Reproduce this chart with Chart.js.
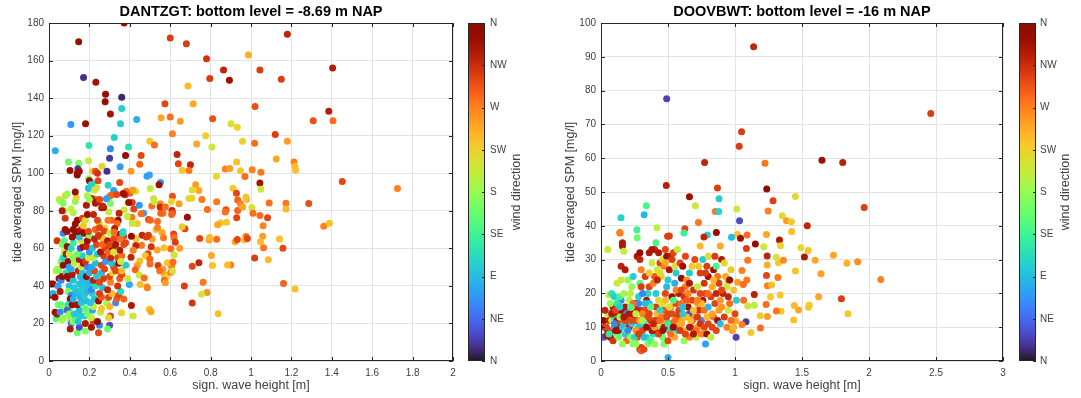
<!DOCTYPE html>
<html>
<head>
<meta charset="utf-8">
<script src="https://cdn.jsdelivr.net/npm/chart.js@4"></script>
<style>
  html, body { margin: 0; padding: 0; background: #fff; }
  #wrap { position: relative; width: 1081px; height: 398px; }
  .panel { position: absolute; top: 0; height: 398px; }
</style>
</head>
<body>
<div id="wrap">
  <div class="panel" style="left:0;width:540px"><canvas id="c1" width="540" height="398"></canvas></div>
  <div class="panel" style="left:540px;width:541px"><canvas id="c2" width="541" height="398"></canvas></div>
</div>
<script>
// colorbar tick labels (wind direction, 0..360 deg in steps of 45)
const dirLabels = ['N', 'NE', 'E', 'SE', 'S', 'SW', 'W', 'NW', 'N'];

// DANTZGT: significant wave height [m], SPM [mg/l], wind direction [deg]
const hsD = [
  0.372,0.147,0.60,0.68,1.18,0.987,0.78,0.864,
  1.044,1.404,0.796,0.893,1.15,0.171,0.232,0.688,
  0.28,0.278,0.36,0.36,0.304,0.574,0.714,1.02,
  1.385,1.308,1.406,0.555,0.60,0.65,0.81,0.108,
  0.181,0.354,0.434,0.323,0.611,0.776,0.901,0.932,
  1.12,1.18,1.018,0.958,0.731,0.031,0.198,0.394,
  0.304,0.499,0.522,0.806,0.456,0.379,0.30,0.634,
  0.64,0.70,0.449,0.096,0.147,0.196,0.263,0.143,
  0.104,0.14,0.215,0.23,0.287,0.406,0.352,0.485,
  0.497,0.659,0.693,0.873,0.895,0.929,0.948,1.006,
  1.049,1.213,1.218,1.221,0.97,0.829,1.125,1.452,
  1.725,1.044,0.552,0.545,0.35,0.501,0.726,0.742,
  0.709,0.911,0.928,0.934,0.975,0.979,1.049,0.196,
  0.215,0.198,0.243,0.293,0.32,0.299,0.383,0.40,
  0.429,0.611,0.606,0.644,0.693,0.707,0.757,0.83,
  0.948,1.09,1.173,1.286,1.173,1.004,1.01,1.044,
  1.082,1.06,0.876,0.934,0.929,0.958,0.873,0.784,
  0.879,0.85,0.835,0.685,0.673,0.659,0.609,0.611,
  0.564,1.36,1.388,1.158,1.141,1.062,1.058,1.047,
  0.975,0.967,0.982,0.922,0.932,0.83,0.793,0.746,
  0.795,0.804,0.809,0.90,0.884,0.709,0.742,1.018,
  1.086,1.161,1.218,0.763,0.782,0.755,0.67,0.709,
  0.837,0.497,0.505,0.485,0.408,0.417,0.359,0.304,
  0.509,0.553,0.551,0.518,0.52,0.55,0.576,0.607,
  0.53,0.537,0.493,0.502,0.537,0.56,0.567,0.511,
  0.492,0.461,0.482,0.617,0.619,0.625,0.603,0.647,
  0.57,0.536,0.506,0.458,0.43,0.417,0.432,0.49,
  0.477,0.499,0.54,0.50,0.449,0.406,0.437,0.427,
  0.447,0.471,0.564,0.572,0.58,0.548,0.607,0.586,
  0.62,0.614,0.603,0.611,0.571,0.576,0.487,0.451,
  0.398,0.412,0.394,0.376,0.367,0.415,0.372,0.41,
  0.42,0.447,0.468,0.456,0.437,0.412,0.388,0.347,
  0.342,0.337,0.325,0.367,0.349,0.369,0.408,0.352,
  0.379,0.296,0.27,0.261,0.265,0.304,0.307,0.335,
  0.284,0.232,0.212,0.236,0.309,0.292,0.249,0.278,
  0.273,0.301,0.323,0.258,0.27,
  0.01,0.02,0.005,0.02,0.03,0.03,0.035,0.04,
  0.04,0.035,0.05,0.05,0.045,0.055,0.06,0.065,
  0.05,0.06,0.07,0.04,0.045,0.06,0.07,0.055,
  0.065,0.07,0.06,0.07,0.07,0.075,0.065,0.075,
  0.07,0.08,0.08,0.075,0.065,0.08,0.09,
  0.09,0.09,0.085,0.1,0.095,0.1,0.085,0.09,
  0.1,0.1,0.095,0.11,0.105,0.095,0.1,0.09,
  0.1,0.105,0.11,0.105,0.12,0.13,0.125,0.115,
  0.12,0.13,0.125,0.12,0.115,0.11,0.125,0.12,
  0.11,0.12,0.115,0.13,0.12,0.13,0.14,0.12,
  0.13,0.11,0.135,0.13,0.14,0.15,
  0.14,0.15,0.145,0.155,0.15,0.14,0.16,0.155,
  0.145,0.16,0.15,0.165,0.155,0.145,0.165,0.16,
  0.17,0.15,0.165,0.14,0.155,0.17,0.16,0.15,
  0.145,0.16,0.175,0.17,0.165,0.18,0.18,0.175,
  0.19,0.18,0.185,0.175,0.19,0.18,0.2,0.195,
  0.185,0.2,0.19,0.18,0.195,0.2,0.185,0.19,
  0.2,0.195,0.18,0.19,0.185,0.2,0.19,0.195,
  0.2,0.21,
  0.21,0.22,0.21,0.215,0.22,0.205,0.225,0.215,
  0.21,0.23,0.22,0.235,0.225,0.21,0.23,0.22,
  0.24,0.215,0.235,0.225,0.245,0.23,0.25,0.24,
  0.22,0.23,0.24,0.25,0.225,0.24,0.245,0.25,
  0.24,0.255,0.26,0.245,0.26,0.25,0.265,0.25,
  0.27,0.26,0.275,0.26,0.28,0.27,0.255,0.28,
  0.265,0.29,0.3,0.29,0.295,0.285,0.3,0.295,
  0.31,0.29,0.305,0.3,0.315,0.32,0.31,0.305,
  0.295,0.315,0.3,0.32,0.33,0.335,0.345,0.355,
  0.34,0.35,0.36,0.33,0.345,0.34,0.36,0.35,
  0.33,0.37,0.365,0.32,0.36,0.38,0.39,0.37,
  0.355
];
const spmD = [
  180,170,172,169,174,163,161,155,
  155,156,150.5,149.5,150,151,148.5,146.5,
  142,138,140.5,134.5,131.5,137,137,135.5,
  133,128,128,129.5,130,127.7,129,126,
  126.3,126.4,128.6,119,121,120,126.3,124.5,
  120.6,117,116,117,115.6,112,114.7,114,
  113,117,115,114,109.4,109.4,108,110,
  105,104.5,104.8,106,105.3,106.6,103.7,102.4,
  101.4,99,101,101,101,101,103.4,98.4,
  99.1,101.6,101.4,102.3,102.5,106,101.3,101.8,
  100.5,106,103.7,101.6,98.2,98.4,107.6,95.6,
  91.9,94.8,95,93.8,95,91.9,93.8,90.8,
  91,92,89.4,85.8,87.4,86,91.5,97,
  94.5,92,96,93.6,90.8,87.6,90.4,89.4,
  90.4,87.8,85,83.7,86.5,86.7,86,84.8,
  83.7,84.2,84,83.9,81,81.7,78.7,77.5,
  76.3,72,80.5,80.2,76.3,82,79.4,80.7,
  73.9,73.6,72.5,76.6,70.4,71.5,80.2,79,
  78.7,71.8,73.4,60,65,60.3,66.5,63.5,
  66.3,64.4,65.3,63.5,64.7,64.9,64.4,65.3,
  65.8,56.2,50.9,51.1,51.1,50.4,52.3,54.8,
  53.9,41.3,38.3,42,36.5,35.5,40,30.9,
  25.2,27.5,26.2,39.5,29.6,23.9,25.7,24,
  82.5,78.7,83.7,86.4,85,82,82,78,
  70,74.3,75.4,75,71,68.4,65.6,65,
  67,67,66,67.6,65.8,63.3,59.8,60,
  60.3,59.1,60.8,61.7,61.5,59,65.1,57.1,
  56,54.3,50.9,51.6,53.2,55.3,50.9,48.6,
  45.8,44.2,48.8,45.9,44.7,48,50.4,52.3,
  56.6,52.7,47.3,47.9,42.9,41.7,39,40.8,
  40.8,84.4,84.4,88.5,89.2,91,80.5,76.6,
  81,83,78.7,78.4,73.2,73.2,77,78.7,
  75,73.2,70.6,68.8,67.4,66.5,66.5,65.1,
  63,79.3,81.8,81.6,82.5,83.9,88.3,88.7,
  86.4,86,86.6,92.2,75,75,73.2,70.8,
  69.2,68.1,68.6,66.1,65.1,
  41,41,35,36,34,26,22.5,25,
  49,48,48,44,40,37,43,45,
  86,85,84,64,30,30,28,26,
  22,23,53,55,51,58,62,64,
  68,70,76,80,80,88,89,
  69,61,57,57,53,50,47,45,
  44,40,37,35,33,30,28,27,
  25,22,20,17,21,22,25,30,
  33,36,39,43,46,49,52,55,
  60,63,66,67,70,73,75,79,
  85,81,87,90,100,101,
  15,18,21,24,27,30,31,34,
  37,38,41,42,45,48,47,50,
  52,54,56,57,60,61,64,66,
  69,70,68,72,76,16,20,24,
  25,28,32,35,37,40,41,43,
  45,47,50,53,55,58,61,64,
  67,69,75,78,83,86,88,92,
  96,94,
  18,21,23,27,29,31,33,36,
  38,40,43,45,48,50,52,55,
  57,60,62,65,67,70,71,75,
  78,84,85,86,91,100,15,19,
  21,26,28,32,34,36,39,42,
  44,47,49,51,53,56,58,60,
  62,64,19,17,23,31,29,34,
  36,38,42,45,47,50,52,55,
  58,60,62,65,31,33,35,37,
  40,44,46,48,52,55,56,59,
  62,62,68,58,48,51,44,33,
  53
];
const dirD = [
  340,345,305,305,320,245,310,320,
  305,325,305,340,305,15,335,240,
  345,345,10,100,335,300,250,295,
  325,295,280,250,280,255,295,70,
  340,100,80,105,270,225,215,225,
  305,255,280,225,250,80,120,120,
  60,230,280,205,300,345,20,320,
  300,320,285,160,165,200,220,20,
  340,345,220,295,15,255,70,75,
  75,230,275,270,255,235,230,270,
  275,270,240,235,280,220,250,300,
  270,335,75,340,300,200,255,250,
  215,230,300,285,230,235,205,170,
  125,110,300,105,75,105,280,285,
  205,295,225,255,220,225,275,275,
  270,280,275,295,240,210,280,280,
  300,270,295,285,300,250,280,280,
  230,230,250,345,300,230,325,300,
  280,270,235,300,235,275,255,240,
  275,230,300,250,300,280,250,300,
  240,250,235,270,240,300,320,305,
  240,285,235,275,260,205,305,310,
  235,235,250,255,330,205,220,300,
  280,285,260,225,200,315,280,285,
  230,280,300,285,270,250,275,255,
  305,320,305,300,280,305,280,255,
  235,250,310,275,320,270,230,300,
  230,285,305,280,235,320,255,285,
  205,280,255,250,230,280,270,230,
  205,280,275,205,285,255,270,235,
  80,305,340,320,340,255,205,275,
  300,70,75,280,230,205,200,320,
  345,280,325,100,340,300,345,280,
  300,200,340,335,320,170,285,300,
  75,280,320,205,285,275,225,220,
  300,200,280,305,230,
  345,340,340,80,345,340,150,335,
  185,200,170,345,75,330,60,340,
  210,180,165,310,165,150,175,60,
  200,180,160,110,345,195,170,150,
  60,340,310,185,330,220,180,
  340,345,330,200,345,70,110,340,
  345,90,170,60,345,110,150,40,
  175,180,60,330,185,150,95,340,
  85,80,100,90,330,80,200,170,
  110,130,340,340,350,345,345,190,
  175,200,220,340,350,340,
  160,30,95,100,90,335,95,85,
  90,100,95,90,85,320,95,200,
  340,330,100,160,30,340,205,90,
  340,330,345,230,300,170,330,100,
  165,150,90,100,85,95,90,85,
  345,80,60,310,200,70,320,340,
  175,300,210,340,330,180,185,95,
  345,105,
  335,305,200,80,200,95,90,105,
  60,110,325,100,300,75,90,205,
  100,95,300,320,310,285,300,300,
  320,330,330,300,215,310,300,60,
  345,200,230,340,290,305,90,300,
  305,90,300,300,70,305,330,305,
  285,330,30,160,220,180,240,300,
  240,320,270,300,220,300,90,320,
  285,345,300,300,60,290,300,110,
  310,290,300,300,345,300,280,330,
  330,300,110,210,240,100,205,285,
  200
];

// DOOVBWT: significant wave height [m], SPM [mg/l], wind direction [deg]
const hsV = [
  1.139,0.49,2.461,1.049,1.031,0.773,1.224,1.649,
  1.804,0.487,0.869,1.237,0.881,1.451,1.964,1.284,
  0.66,0.338,0.704,1.013,0.853,0.879,1.247,0.149,
  0.322,1.353,1.384,1.42,1.034,0.727,1.539,0.418,
  0.268,0.626,0.142,0.497,0.619,0.794,0.768,0.861,
  1.018,1.09,1.041,0.974,1.235,1.423,1.152,1.214,
  1.332,1.34,1.492,1.546,1.735,1.518,1.598,1.835,
  1.915,2.088,1.642,1.451,1.32,1.24,1.325,1.361,
  1.309,1.24,1.095,1.085,1.052,1.088,1.02,0.948,
  1.062,1.235,1.242,1.273,1.624,1.794,1.843,1.554,
  1.549,1.474,1.443,1.438,1.343,1.309,1.337,1.265,
  1.144,1.064,1.082,1.095,1.144,1.232,1.188,1.242,
  1.19,1.119,1.008,1.052,1.005,
  0.02,0.03,0.02,0.04,0.05,0.06,0.07,0.08,
  0.07,0.08,0.06,0.08,0.09,0.1,0.1,0.1,
  0.09,0.05,0.05,
  0.12,0.13,0.12,0.13,0.14,0.15,0.15,0.16,
  0.14,0.15,0.17,0.18,0.17,0.18,0.19,0.16,
  0.2,0.19,0.21,0.22,0.2,0.23,0.21,0.22,
  0.24,0.25,0.24,0.26,0.27,0.28,0.26,0.27,
  0.29,0.3,0.3,0.32,0.28,0.29,0.27,0.29,
  0.29,0.3,0.28,0.3,0.16,0.16,0.17,0.14,
  0.15,0.27,
  0.31,0.32,0.33,0.34,0.35,0.33,0.34,0.35,
  0.36,0.33,0.31,0.36,0.37,0.38,0.39,0.37,
  0.4,0.41,0.4,0.42,0.41,0.43,0.39,0.4,
  0.42,0.44,0.4,0.43,0.36,0.38,0.41,0.45,
  0.46,0.47,0.48,0.47,0.46,0.48,0.49,0.45,
  0.47,0.46,0.49,0.48,0.44,0.5,0.5,0.51,
  0.52,0.5,0.52,0.53,0.5,0.51,0.52,0.53,
  0.51,0.54,0.55,0.55,0.56,
  0.55,0.56,0.57,0.58,0.56,0.58,0.6,0.59,
  0.57,0.6,0.61,0.62,0.6,0.62,0.63,0.64,
  0.61,0.63,0.66,0.65,0.67,0.66,0.68,0.69,
  0.66,0.68,0.7,0.65,0.7,0.72,0.73,0.71,
  0.74,0.72,0.74,0.73,0.75,0.77,0.76,0.75,
  0.78,0.77,0.76,0.74,0.79,0.8,0.79,0.8,
  0.78,0.8,0.79,0.8,
  0.82,0.83,0.84,0.82,0.83,0.85,0.84,0.86,
  0.85,0.87,0.86,0.88,0.87,0.89,0.9,0.88,
  0.9,0.89,0.92,0.91,0.93,0.92,0.94,0.95,
  0.95,0.96,0.94,0.97,0.98,0.97,0.99,1.0,
  0.99,1.01,
  0.04,0.06,0.08,0.1,0.11,0.13,0.14,0.16,
  0.18,0.19,0.21,0.23,0.24,0.25,0.27,0.29,
  0.31,0.32,0.34,0.35,0.37,0.38,0.4,0.42,
  0.43,0.44,0.45,0.47,0.48,0.5,0.52,0.53,
  0.55,0.57,0.58,0.6,0.61,0.63,0.64,0.66,
  0.68,0.69,0.71,0.72,0.74,0.22,0.26,0.12,
  0.03,0.07,0.11,0.14,0.17,0.2,0.23,0.26,
  0.28,0.31,0.33,0.36,0.39,0.41,0.44,0.46,
  0.49,0.51,0.54,0.56,0.59,0.61,0.64,0.67,
  0.69,0.72,0.75,0.77,0.8,0.83,0.86,0.89,
  0.12,0.18,0.24,0.3,0.36,0.42,0.48,0.54,
  0.6,0.66,0.72,0.78,0.84,0.9,0.96,0.38
];
const spmV = [
  93,77.6,73.2,67.8,63.5,58.7,58.5,59.4,
  58.7,51.9,51.2,50.9,48,48.7,45.4,47.4,
  48.6,45.9,45.9,45,44.2,44.2,44.4,42.4,
  43.3,43,41.5,41.2,41.5,41,40,39.4,
  38.8,39.1,37.9,36.9,37.9,37.3,36.7,38,
  37.4,37.3,36.3,36.6,37.4,38.3,34.6,33.8,
  35.8,34.1,33.5,32.7,31.3,30.8,29.8,28.9,
  29.4,24.1,25.8,26.6,24.7,28.4,29.1,29.8,
  30.7,31.1,29.8,33.3,26.8,24,23.3,23.6,
  22.6,25.3,22.3,22.5,19,18.4,14,16.6,
  15.9,15.1,16.4,12.1,14.7,14.8,19.5,18.9,
  19.7,18,11.6,16.3,16.5,16.7,13.4,13.2,
  9.8,8.4,7,10.8,11.9,
  12,10,7,7.5,9,12,14,12,
  7,9,19.5,20,16,19,13,10,
  6,33,14,
  12,14,8,7,10,12,18,15,
  19,24,20,16,11,8,6,5,
  12,14,18,20,24,22,10,7,
  5,12,14,17,12,10,9,7,
  3.5,4,3,3.5,19,23,31,32,
  30,27,17,15,34,35,32.5,38,
  28,36.5,
  9,11,13,7,5,15,18,20,
  22,25,20,17,12,10,8,6,
  5,9,12,14,16,18,23,25,
  27,29,33,32,32,33,35,10,
  7,5,12,15,17,20,22,25,
  28,30,31,33,26,1,6,9,
  11,14,16,19,24,27,31,30,
  37,32,28,23,26,
  7,10,13,15,17,20,24.5,29,
  33,12,9,6,17,19,22,24,
  28,31,14,16,10,7,18,21,
  26,28,30,20,13,10,15,7,
  20,22,26,28,12,15,18,8,
  5,23,30,34,8,11,13,16,
  20,25,28,31,
  7,10,13,19,22,17,27,28,
  31,25,20,15,12,11,16,23,
  30,34,13,20,25,29,10,15,
  19,24,22,12,9,27,21,14,
  10,18,
  10,8,14,11,15,9,13,10,
  12,9,14,11,17,7,15,12,
  14,7,10,13,16,9,10,12,
  8,15,13,10,18,11,8,14,
  12,9,14,11,16,8,13,10,
  12,15,9,17,11,16,5,17,
  15,17,9,16,13,9,12,14,
  8,12,17,14,11,20,12,9,
  13,16,10,21,9,14,18,12,
  8,13,17,10,20,14,9,18,
  23,27,25,22,26,24,29,18,
  21,23,18,26,24,21,17,29
];
const dirV = [
  320,25,305,305,305,320,275,340,
  325,325,305,350,100,220,305,305,
  340,140,205,200,275,105,270,105,
  85,220,255,230,30,275,320,195,
  135,300,285,305,130,105,320,345,
  235,280,340,90,250,235,345,205,
  330,225,220,235,250,330,250,245,
  265,270,255,230,275,245,230,265,
  210,320,275,305,270,275,255,245,
  280,300,270,235,250,305,230,225,
  230,250,240,235,230,275,230,225,
  325,280,20,205,200,280,230,255,
  280,230,25,270,250,
  345,340,40,330,345,320,340,200,
  340,300,195,120,330,100,110,90,
  310,205,200,
  340,335,150,160,320,300,60,340,
  140,205,185,330,100,95,285,180,
  310,60,190,200,180,180,320,170,
  170,345,330,330,300,95,260,300,
  300,305,290,300,105,150,330,345,
  320,270,60,305,330,330,200,270,
  320,160,
  300,110,300,120,170,300,330,105,
  300,305,60,100,305,280,110,140,
  180,330,300,240,305,220,270,290,
  205,300,320,330,330,330,140,200,
  160,170,250,290,210,300,90,230,
  275,215,340,300,220,85,300,105,
  305,300,270,340,100,330,330,305,
  305,300,210,80,100,
  250,270,300,300,300,330,345,300,
  195,250,240,180,280,310,275,260,
  340,300,30,340,300,270,300,310,
  100,230,300,270,260,250,310,200,
  300,200,305,230,60,280,330,270,
  75,310,100,240,340,300,240,90,
  300,340,305,220,
  200,300,280,305,250,300,340,140,
  305,280,320,255,340,90,260,305,
  330,250,305,320,250,220,270,200,
  320,345,210,280,255,230,235,300,
  240,100,
  300,120,330,60,300,340,180,95,
  300,150,330,100,280,110,320,250,
  270,90,340,300,150,330,255,305,
  300,110,270,330,240,130,280,300,
  280,110,305,250,90,300,240,330,
  305,230,280,255,310,140,180,120,
  320,180,340,100,330,60,300,200,
  305,180,90,300,320,100,280,340,
  300,220,340,270,305,100,290,240,
  330,305,240,300,280,250,300,260,
  200,330,100,305,230,320,250,140,
  300,330,270,305,240,300,280,200
];

Chart.defaults.font.family = '"Liberation Sans", Arial, Helvetica, sans-serif';
Chart.defaults.color = '#404040';

// turbo colormap (polynomial approximation)
function turbo(t) {
  t = Math.min(1, Math.max(0, t));
  const r = 0.13572138 + t*(4.61539260 + t*(-42.66032258 + t*(132.13108234 + t*(-152.94239396 + t*59.28637943))));
  const g = 0.09140261 + t*(2.19418839 + t*(4.84296658 + t*(-14.18503333 + t*(4.27729857 + t*2.82956604))));
  const b = 0.10667330 + t*(12.64194608 + t*(-60.58204836 + t*(110.36276771 + t*(-89.90310912 + t*27.34824973))));
  const c = v => Math.round(255 * Math.min(1, Math.max(0, v)));
  return `rgb(${c(r)},${c(g)},${c(b)})`;
}

// box, inward ticks, title and colorbar (MATLAB look)
const frame = {
  id: 'frame',
  afterDraw(chart, args, o) {
    const {ctx, chartArea: a, scales} = chart;
    ctx.save();
    ctx.strokeStyle = '#262626';
    ctx.lineWidth = 1;
    ctx.strokeRect(a.left + 0.5, a.top + 0.5, a.right - a.left - 1, a.bottom - a.top - 1);
    ctx.beginPath();
    scales.x.ticks.forEach(t => {
      const px = Math.round(scales.x.getPixelForValue(t.value)) + 0.5;
      ctx.moveTo(px, a.bottom); ctx.lineTo(px, a.bottom - 4);
      ctx.moveTo(px, a.top); ctx.lineTo(px, a.top + 4);
    });
    scales.y.ticks.forEach(t => {
      const py = Math.round(scales.y.getPixelForValue(t.value)) + 0.5;
      ctx.moveTo(a.left, py); ctx.lineTo(a.left + 4, py);
      ctx.moveTo(a.right, py); ctx.lineTo(a.right - 4, py);
    });
    ctx.stroke();

    // title
    ctx.fillStyle = '#000';
    ctx.font = 'bold 14.5px "Liberation Sans", Arial, sans-serif';
    ctx.textAlign = 'center';
    ctx.textBaseline = 'middle';
    ctx.fillText(o.title, (a.left + a.right) / 2, 12);

    // colorbar
    const x0 = a.right + o.gap, w = 17;
    const grad = ctx.createLinearGradient(0, a.bottom, 0, a.top);
    for (let i = 0; i <= 40; i++) grad.addColorStop(i / 40, turbo(i / 40));
    ctx.fillStyle = grad;
    ctx.fillRect(x0, a.top, w, a.bottom - a.top);
    ctx.strokeStyle = '#262626';
    ctx.strokeRect(x0 + 0.5, a.top + 0.5, w - 1, a.bottom - a.top - 1);
    ctx.beginPath();
    scales.cb.ticks.forEach(t => {
      const py = Math.round(scales.cb.getPixelForValue(t.value)) + 0.5;
      ctx.moveTo(x0 + w, py); ctx.lineTo(x0 + w - 3, py);
    });
    ctx.stroke();

    ctx.translate(a.right + o.labelOff, (a.top + a.bottom) / 2);
    ctx.rotate(-Math.PI / 2);
    ctx.fillStyle = '#404040';
    ctx.font = '12.5px "Liberation Sans", Arial, sans-serif';
    ctx.fillText('wind direction', 0, 0);
    ctx.restore();
  }
};

function makeChart(id, p) {
  return new Chart(document.getElementById(id), {
    type: 'scatter',
    data: {
      datasets: [{
        data: p.hs.map((x, i) => ({x: x, y: p.spm[i]})),
        pointBackgroundColor: p.dir.map(d => turbo(d / 360)),
        pointBorderWidth: 0,
        pointBorderColor: 'rgba(0,0,0,0)',
        pointRadius: 3.5,
        pointHoverRadius: 3.5
      }]
    },
    options: {
      responsive: false,
      animation: false,
      events: [],
      layout: {padding: {top: 23, left: 0, right: 0, bottom: 0}},
      plugins: {
        legend: {display: false},
        tooltip: {enabled: false},
        frame: {title: p.title, gap: p.gap, labelOff: p.labelOff}
      },
      scales: {
        x: {
          type: 'linear', min: 0, max: p.xMax,
          ticks: {stepSize: p.xStep, padding: 6, font: {size: 10},
                  callback: v => String(Math.round(v * 10) / 10)},
          grid: {color: '#e3e3e3', drawTicks: false},
          border: {display: false},
          title: {display: true, text: 'sign. wave height [m]', font: {size: 12.5},
                  padding: {top: 0, bottom: 4.5}},
          afterFit: s => { s.height = 37; }
        },
        y: {
          type: 'linear', min: 0, max: p.yMax,
          ticks: {stepSize: p.yStep, padding: 5, font: {size: 10}},
          grid: {color: '#e3e3e3', drawTicks: false},
          border: {display: false},
          title: {display: true, text: 'tide averaged SPM [mg/l]', font: {size: 12.5},
                  padding: {top: p.yTitlePad, bottom: 0}},
          afterFit: s => { s.width = p.yWidth; }
        },
        cb: {
          // labels pushed right by an invisible tick mark so the plot keeps its height
          type: 'linear', position: 'right', min: 0, max: 360,
          ticks: {stepSize: 45, padding: 0, font: {size: 10},
                  callback: v => dirLabels[Math.round(v / 45)]},
          grid: {drawOnChartArea: false, drawTicks: true, tickLength: 37, tickColor: 'rgba(0,0,0,0)'},
          border: {display: false},
          afterFit: s => { s.width = p.cbWidth; }
        }
      }
    },
    plugins: [frame]
  });
}

makeChart('c1', {
  hs: hsD, spm: spmD, dir: dirD,
  title: 'DANTZGT: bottom level = -8.69 m NAP',
  xMax: 2, xStep: 0.2, yMax: 180, yStep: 20,
  yWidth: 49, yTitlePad: 10.5, cbWidth: 87, gap: 15, labelOff: 64
});
makeChart('c2', {
  hs: hsV, spm: spmV, dir: dirV,
  title: 'DOOVBWT: bottom level = -16 m NAP',
  xMax: 3, xStep: 0.5, yMax: 100, yStep: 10,
  yWidth: 61, yTitlePad: 23.5, cbWidth: 78, gap: 16, labelOff: 63
});
</script>
</body>
</html>
